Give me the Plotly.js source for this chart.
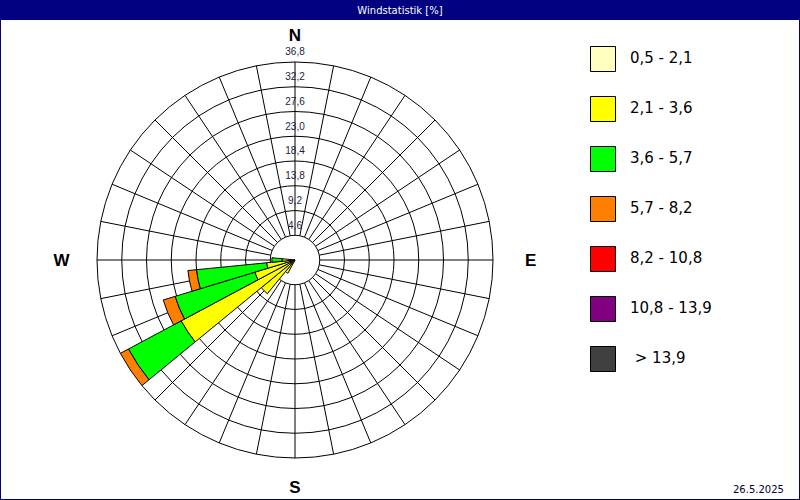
<!DOCTYPE html>
<html>
<head>
<meta charset="utf-8">
<script src="https://cdn.plot.ly/plotly-3.0.1.min.js"></script>
<style>
    html, body { margin: 0; padding: 0; background: #fff; }
    #chart { width: 800px; height: 500px; }
</style>
</head>
<body>
<div id="chart"></div>
<script>
// Wind rose: 32 sectors, frequency [%] per wind speed class
const DIRECTIONS = [
    0, 11.25, 22.5, 33.75, 45, 56.25, 67.5, 78.75,
    90, 101.25, 112.5, 123.75, 135, 146.25, 157.5, 168.75,
    180, 191.25, 202.5, 213.75, 225, 236.25, 247.5, 258.75,
    270, 281.25, 292.5, 303.75, 315, 326.25, 337.5, 348.75
];

const CLASS_LABELS = ['0,5 - 2,1', '2,1 - 3,6', '3,6 - 5,7', '5,7 - 8,2', '8,2 - 10,8', '10,8 - 13,9', ' > 13,9'];
const CLASS_COLORS = ['#FFFFC0', '#FFFF00', '#00FF00', '#FF8000', '#FF0000', '#800080', '#404040'];

//                  N ......................................... 213.75 225  236.25 247.5 258.75 270 ...
const FREQ_05_21  = [0,0,0,0,0,0,0,0, 0,0,0,0,0,0,0,0, 0,0,0,0.3,0.4,0.5,0.5,0.4, 0.3,0,0,0,0,0,0,0];
const FREQ_21_36  = [0,0,0,0,0,0,0,0, 0,0,0,0,0,0,0,0, 0,0,0,2.5,7.7,23.5,7.3,4.9, 2.1,0,0,0,0,0,0,0];
const FREQ_36_57  = [0,0,0,0,0,0,0,0, 0,0,0,0,0,0,0,0, 0,0,0,0,0,11.1,15.5,13.1, 1.9,0,0,0,0,0,0,0];
const FREQ_57_82  = [0,0,0,0,0,0,0,0, 0,0,0,0,0,0,0,0, 0,0,0,0,0,1.7,2.3,1.6, 0,0,0,0,0,0,0,0];
const FREQ_82_108 = [0,0,0,0,0,0,0,0, 0,0,0,0,0,0,0,0, 0,0,0,0,0,0,0,0, 0,0,0,0,0,0,0,0];
const FREQ_108_139 = [0,0,0,0,0,0,0,0, 0,0,0,0,0,0,0,0, 0,0,0,0,0,0,0,0, 0,0,0,0,0,0,0,0];
const FREQ_GT_139 = [0,0,0,0,0,0,0,0, 0,0,0,0,0,0,0,0, 0,0,0,0,0,0,0,0, 0,0,0,0,0,0,0,0];

const RING_TICKS  = [4.6, 9.2, 13.8, 18.4, 23.0, 27.6, 32.2, 36.8];
const RING_LABELS = ['4,6', '9,2', '13,8', '18,4', '23,0', '27,6', '32,2', '36,8'];
const COMPASS_TICKS  = [0, 90, 180, 270];
const COMPASS_LABELS = ['N', '\u00a0\u00a0\u00a0E', 'S', 'W\u00a0\u00a0'];
const DATE_TEXT = '26.5.2025';

const R_MAX = RING_TICKS[RING_TICKS.length - 1];
const SECTOR = 360 / DIRECTIONS.length;
const FREQS = [FREQ_05_21, FREQ_21_36, FREQ_36_57, FREQ_57_82, FREQ_82_108, FREQ_108_139, FREQ_GT_139];

const traces = [];

// ring values along the north spoke (on the grid polar, keeps it drawn)
traces.push({
    type: 'scatterpolar',
    subplot: 'polar',
    mode: 'markers+text',
    r: RING_TICKS,
    theta: RING_TICKS.map(() => 0),
    text: RING_LABELS,
    textposition: 'top center',
    textfont: { family: 'Liberation Sans', size: 10, color: '#1c1c40' },
    marker: { size: 5, color: 'rgba(0,0,0,0)' },
    cliponaxis: false,
    showlegend: false,
    hoverinfo: 'skip'
});

// stacked sectors on the top polar (no hole so they reach the centre)
FREQS.forEach((vals, i) => {
    traces.push({
        type: 'barpolar',
        subplot: 'polar2',
        r: vals,
        theta: DIRECTIONS,
        width: DIRECTIONS.map(() => SECTOR),
        name: CLASS_LABELS[i],
        marker: { color: CLASS_COLORS[i], line: { color: '#000', width: 1 } },
        showlegend: false,
        hoverinfo: 'skip'
    });
});

// legend boxes + labels
const legendY = CLASS_LABELS.map((_, i) => i);
traces.push({
    type: 'scatter',
    x: CLASS_LABELS.map(() => 0),
    y: legendY,
    mode: 'markers',
    marker: { symbol: 'square', size: 25, color: CLASS_COLORS, line: { color: '#000', width: 1 } },
    cliponaxis: false,
    showlegend: false,
    hoverinfo: 'skip'
});
traces.push({
    type: 'scatter',
    x: CLASS_LABELS.map(() => 27),
    y: legendY,
    mode: 'text',
    text: CLASS_LABELS,
    textposition: 'middle right',
    textfont: { family: 'DejaVu Sans', size: 15, color: '#000' },
    cliponaxis: false,
    showlegend: false,
    hoverinfo: 'skip'
});

const polarDomain = { x: [0.12125, 0.61625], y: [0.084, 0.876] };

const layout = {
    width: 800,
    height: 500,
    margin: { l: 0, r: 0, t: 0, b: 0 },
    paper_bgcolor: '#fff',
    plot_bgcolor: 'rgba(0,0,0,0)',
    showlegend: false,
    title: {
        text: 'Windstatistik [%]',
        font: { family: 'DejaVu Sans', size: 10, color: '#fff' },
        x: 0.5, xanchor: 'center',
        y: 0.98, yref: 'container', yanchor: 'middle'
    },
    // grid (rings + spokes), hole in the middle
    polar: {
        domain: polarDomain,
        bgcolor: '#fff',
        hole: RING_TICKS[0] / R_MAX,
        radialaxis: {
            range: [RING_TICKS[0], R_MAX],
            tickvals: RING_TICKS,
            showticklabels: false,
            ticks: '',
            showline: false,
            gridcolor: '#000',
            gridwidth: 1
        },
        angularaxis: {
            rotation: 90,
            direction: 'clockwise',
            tickvals: DIRECTIONS,
            showticklabels: false,
            ticks: '',
            showline: true,
            linecolor: '#000',
            linewidth: 1,
            gridcolor: '#000',
            gridwidth: 1
        }
    },
    // sectors + compass letters
    polar2: {
        domain: polarDomain,
        bgcolor: 'rgba(0,0,0,0)',
        barmode: 'stack',
        radialaxis: {
            range: [0, R_MAX],
            showgrid: false,
            showline: false,
            showticklabels: false,
            ticks: ''
        },
        angularaxis: {
            rotation: 90,
            direction: 'clockwise',
            tickvals: COMPASS_TICKS,
            ticktext: COMPASS_LABELS,
            ticks: 'outside',
            ticklen: 14,
            tickcolor: 'rgba(0,0,0,0)',
            tickfont: { family: 'Liberation Sans', size: 17, color: '#000', weight: 'bold' },
            showgrid: false,
            showline: false
        }
    },
    xaxis: {
        domain: [0.70, 1],
        range: [-43, 197],
        visible: false,
        fixedrange: true
    },
    yaxis: {
        domain: [0.232, 0.932],
        range: [6.5, -0.5],
        visible: false,
        fixedrange: true
    },
    shapes: [
        {
            type: 'rect', xref: 'paper', yref: 'paper', layer: 'below',
            x0: 0, x1: 1, y0: 0.96, y1: 1,
            fillcolor: '#000080', line: { width: 0 }
        },
        {
            type: 'rect', xref: 'paper', yref: 'paper', layer: 'above',
            x0: 0, x1: 1, y0: 0, y1: 1,
            fillcolor: 'rgba(0,0,0,0)', line: { color: '#000080', width: 2 }
        }
    ],
    annotations: [{
        text: DATE_TEXT,
        xref: 'paper', yref: 'paper',
        x: 0.983, xanchor: 'right',
        y: 0.022, yanchor: 'middle',
        showarrow: false,
        font: { family: 'DejaVu Sans', size: 10, color: '#000033' }
    }]
};

Plotly.newPlot('chart', traces, layout, { staticPlot: true, displayModeBar: false });
</script>
</body>
</html>
